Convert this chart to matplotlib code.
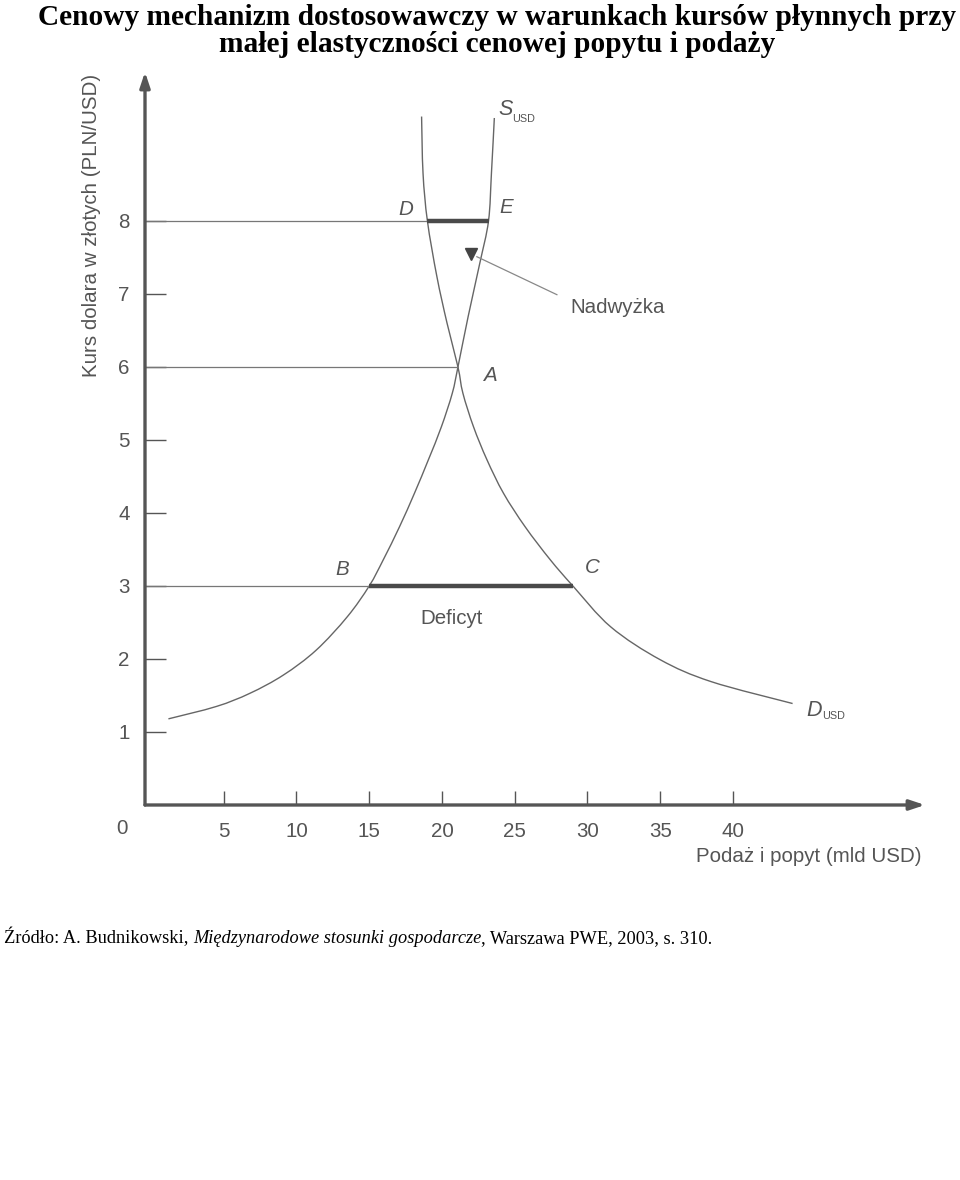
import matplotlib
matplotlib.use("Agg")
import matplotlib.pyplot as plt
from matplotlib.path import Path
from matplotlib.patches import PathPatch

# ---------------- data ----------------
supply_x = [1.2, 4.5, 6.8, 9.1, 11.35, 13.5, 15.0, 15.97, 17.08, 18.11, 19.07, 19.96, 20.71, 21.1,
            21.8, 22.6, 23.2, 23.4, 23.6]
supply_y = [1.18, 1.35, 1.53, 1.78, 2.12, 2.58, 3.0, 3.36, 3.81, 4.27, 4.73, 5.18, 5.64, 6.0,
            6.69, 7.42, 8.0, 8.65, 9.41]

demand_x = [18.6, 18.7, 19.0, 19.65, 20.35, 21.1, 21.44, 22.17, 23.09, 24.23, 25.72, 27.44, 29.0,
            31.6, 35.0, 38.5, 44.1]
demand_y = [9.43, 8.65, 8.0, 7.24, 6.6, 6.0, 5.64, 5.18, 4.73, 4.27, 3.81, 3.36, 3.0,
            2.44, 1.99, 1.69, 1.39]

# guide lines: price level and x where the thin line ends
guide_prices = [8, 6, 3]
guide_ends = [19.0, 21.1, 15.0]

# surplus (D-E) and deficit (B-C)
surplus_price, surplus_from, surplus_to = 8, 19.0, 23.2
deficit_price, deficit_from, deficit_to = 3, 15.0, 29.0

# point labels
point_names = ["D", "E", "A", "B", "C"]
point_lx = [17.5, 24.4, 23.3, 13.15, 30.35]
point_ly = [8.16, 8.18, 5.88, 3.23, 3.25]

x_ticks = [5, 10, 15, 20, 25, 30, 35, 40]
y_ticks = [1, 2, 3, 4, 5, 6, 7, 8]

title = "Cenowy mechanizm dostosowawczy w warunkach kursów płynnych przy\nmałej elastyczności cenowej popytu i podaży"
x_label = "Podaż i popyt (mld USD)"
y_label = "Kurs dolara w złotych (PLN/USD)"
source_a = "Źródło: A. Budnikowski, "
source_b = "Międzynarodowe stosunki gospodarcze"
source_c = ", Warszawa PWE, 2003, s. 310."

# ---------------- style ----------------
plt.rcParams['font.family'] = ['Liberation Sans', 'DejaVu Sans']
plt.rcParams['mathtext.fontset'] = 'custom'
plt.rcParams['mathtext.it'] = 'Liberation Sans:italic'
plt.rcParams['mathtext.rm'] = 'Liberation Sans'

AX = '#555555'
CURVE = '#666666'
TXT = '#555555'
FS = 14.8


def smooth_curve(xs, ys):
    """Cubic Bezier path drawn through the given points (Catmull-Rom tangents)."""
    n = len(xs)
    verts = [(xs[0], ys[0])]
    codes = [Path.MOVETO]
    for i in range(n - 1):
        i0 = i - 1 if i > 0 else i
        i3 = i + 2 if i + 2 < n else i + 1
        c1 = (xs[i] + (xs[i + 1] - xs[i0]) / 6.0, ys[i] + (ys[i + 1] - ys[i0]) / 6.0)
        c2 = (xs[i + 1] - (xs[i3] - xs[i]) / 6.0, ys[i + 1] - (ys[i3] - ys[i]) / 6.0)
        verts += [c1, c2, (xs[i + 1], ys[i + 1])]
        codes += [Path.CURVE4] * 3
    return Path(verts, codes)


fig = plt.figure(figsize=(9.6, 11.8), dpi=100)
W, H = 960, 1180
ax = fig.add_axes([145 / W, (H - 805) / H, (925 - 145) / W, (805 - 72) / H])
ax.set_xlim(-0.41, 53.2)
ax.set_ylim(0, 10.04)
for s in ax.spines.values():
    s.set_visible(False)

# axis arrows
for tip in [(1, 0), (0, 1)]:
    ax.annotate('', xy=tip, xytext=(0, 0), xycoords='axes fraction',
                arrowprops=dict(arrowstyle='-|>,head_length=0.9,head_width=0.3', color=AX, lw=2.4,
                                shrinkA=0, shrinkB=0))

ax.set_xticks(x_ticks)
ax.set_yticks(y_ticks)
ax.set_xticklabels([str(v) for v in x_ticks])
ax.set_yticklabels([str(v) for v in y_ticks])
ax.tick_params(axis='x', direction='in', length=10, width=1, color=AX, labelsize=FS,
               labelcolor=TXT, pad=12)
ax.tick_params(axis='y', direction='in', length=15, width=1, color=AX, labelsize=FS,
               labelcolor=TXT, pad=11)
ax.text(-2.0, -0.32, "0", ha='center', va='center', fontsize=FS, color=TXT)

# guide lines
for p, e in zip(guide_prices, guide_ends):
    ax.plot([-0.41, e], [p, p], color='#777777', lw=0.9, solid_capstyle='butt')

# curves
ax.add_patch(PathPatch(smooth_curve(supply_x, supply_y), fill=False, edgecolor=CURVE, lw=1.0))
ax.add_patch(PathPatch(smooth_curve(demand_x, demand_y), fill=False, edgecolor=CURVE, lw=1.0))

# thick segments
ax.plot([surplus_from, surplus_to], [surplus_price, surplus_price], color='#4a4a4a', lw=3.2,
        solid_capstyle='butt')
ax.plot([deficit_from, deficit_to], [deficit_price, deficit_price], color='#4a4a4a', lw=3.2,
        solid_capstyle='butt')

# point labels
for n, lx, ly in zip(point_names, point_lx, point_ly):
    ax.text(lx, ly, n, fontsize=FS, style='italic', color=TXT, ha='center', va='center')

ax.text(23.85, 9.52, r'$S$', fontsize=15.5, color=TXT, ha='left', va='center')
ax.text(24.85, 9.40, 'USD', fontsize=7.8, color=TXT, ha='left', va='center')
ax.text(45.0, 1.30, r'$D$', fontsize=15.5, color=TXT, ha='left', va='center')
ax.text(46.15, 1.22, 'USD', fontsize=7.8, color=TXT, ha='left', va='center')

# Nadwyżka arrow
ax.plot([27.9, 22.4], [6.99, 7.51], color='#888888', lw=0.9)
ax.plot([22.0], [7.55], marker='v', markersize=8, color='#444444')
ax.text(32.05, 6.82, "Nadwyżka", fontsize=FS, color=TXT, ha='center', va='center')
ax.text(20.63, 2.55, "Deficyt", fontsize=FS, color=TXT, ha='center', va='center')

# axis labels
ax.text(45.2, -0.71, x_label, fontsize=FS, color=TXT, ha='center', va='center')
fig.text(92 / W, 1 - 225 / H, y_label, rotation=90, fontsize=FS, color=TXT, ha='center', va='center')

# title
fig.text(497 / W, 1 - 31 / H, title, ha='center', va='center', fontsize=21.2, fontweight='bold',
         family='Liberation Serif', linespacing=1.03)

# source
t1 = fig.text(4 / W, 1 - 937 / H, source_a, fontsize=13.2,
              family='Liberation Serif', ha='left', va='center')
t2 = ax.annotate(source_b, xy=(1, 0), xycoords=t1, fontsize=13.2,
                 family='Liberation Serif', style='italic', ha='left', va='bottom',
                 annotation_clip=False)
t3 = ax.annotate(source_c, xy=(1, 0), xycoords=t2, fontsize=13.2,
                 family='Liberation Serif', ha='left', va='bottom', annotation_clip=False)

fig.savefig("out.png", dpi=100)
